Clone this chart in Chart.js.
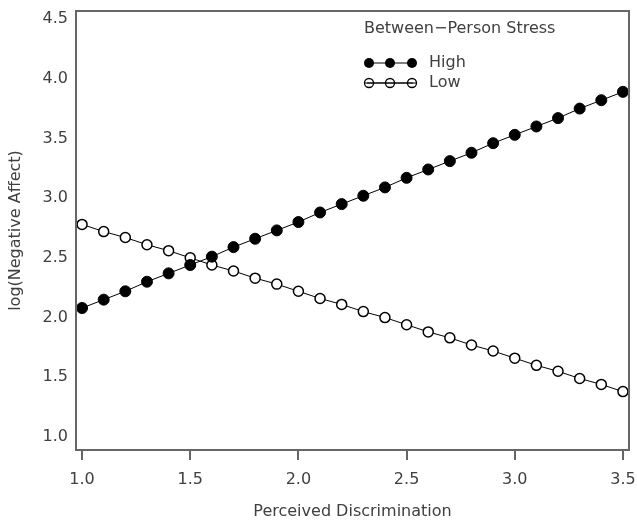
<!DOCTYPE html>
<html>
<head>
<meta charset="utf-8">
<script src="https://cdn.jsdelivr.net/npm/chart.js@4.4.0/dist/chart.umd.min.js"></script>
<style>
  html, body { margin: 0; padding: 0; background: #ffffff; }
  #wrap { width: 637px; height: 521px; position: relative; }
</style>
</head>
<body>
<div id="wrap"><canvas id="c" width="637" height="521"></canvas></div>
<script>
// ---- data ----
const discrimination = [1.0, 1.1, 1.2, 1.3, 1.4, 1.5, 1.6, 1.7, 1.8, 1.9, 2.0, 2.1, 2.2, 2.3, 2.4, 2.5, 2.6, 2.7, 2.8, 2.9, 3.0, 3.1, 3.2, 3.3, 3.4, 3.5];
const highStress = [2.08, 2.15, 2.22, 2.30, 2.37, 2.44, 2.51, 2.59, 2.66, 2.73, 2.80, 2.88, 2.95, 3.02, 3.09, 3.17, 3.24, 3.31, 3.38, 3.46, 3.53, 3.60, 3.67, 3.75, 3.82, 3.89];
const lowStress  = [2.78, 2.72, 2.67, 2.61, 2.56, 2.50, 2.44, 2.39, 2.33, 2.28, 2.22, 2.16, 2.11, 2.05, 2.00, 1.94, 1.88, 1.83, 1.77, 1.72, 1.66, 1.60, 1.55, 1.49, 1.44, 1.38];
const xTicks = [1.0, 1.5, 2.0, 2.5, 3.0, 3.5];
const yTicks = [1.0, 1.5, 2.0, 2.5, 3.0, 3.5, 4.0, 4.5];
const seriesNames = ['High', 'Low'];
const legendTitle = 'Between\u2212Person Stress';
const xTitle = 'Perceived Discrimination';
const yTitle = 'log(Negative Affect)';

const FONT = '"DejaVu Sans", sans-serif';
const TEXT = '#404040';
const AXIS = '#666666';

function pts(ys) { return discrimination.map((x, i) => ({ x: x, y: ys[i] })); }

const framePlugin = {
  id: 'frame',
  afterDraw(chart) {
    const { ctx, chartArea: a } = chart;
    ctx.save();
    ctx.strokeStyle = AXIS;
    ctx.lineWidth = 2;
    ctx.strokeRect(a.left, a.top, a.right - a.left, a.bottom - a.top);

    // legend inside plot
    const lx = a.left + 288, ly = a.top + 18;
    ctx.fillStyle = TEXT;
    ctx.font = '16px ' + FONT;
    ctx.textBaseline = 'middle';
    ctx.textAlign = 'left';
    ctx.fillText(legendTitle, lx, ly);
    const rows = [
      { name: seriesNames[0], filled: true, y: ly + 34 },
      { name: seriesNames[1], filled: false, y: ly + 54 }
    ];
    rows.forEach(r => {
      ctx.strokeStyle = '#000';
      ctx.lineWidth = 1;
      ctx.beginPath();
      ctx.moveTo(lx + 3, r.y);
      ctx.lineTo(lx + 49, r.y);
      ctx.stroke();
      [lx + 5, lx + 26, lx + 48].forEach(cx => {
        ctx.beginPath();
        ctx.arc(cx, r.y, r.filled ? 5 : 4.5, 0, Math.PI * 2);
        if (r.filled) { ctx.fillStyle = '#000'; ctx.fill(); }
        else { ctx.lineWidth = 1.3; ctx.stroke(); ctx.lineWidth = 1; }
      });
      if (!r.filled) {
        ctx.beginPath(); ctx.moveTo(lx + 1, r.y); ctx.lineTo(lx + 52, r.y); ctx.stroke();
      }
      ctx.fillStyle = TEXT;
      ctx.font = '16px ' + FONT;
      ctx.fillText(r.name, lx + 65, r.y);
    });
    ctx.restore();
  }
};

new Chart(document.getElementById('c'), {
  type: 'line',
  data: {
    datasets: [
      {
        label: seriesNames[0],
        data: pts(highStress),
        borderColor: '#000',
        borderWidth: 1,
        backgroundColor: '#000',
        pointBackgroundColor: '#000',
        pointBorderColor: '#000',
        pointRadius: 5.5,
        pointBorderWidth: 1,
        tension: 0,
        clip: false
      },
      {
        label: seriesNames[1],
        data: pts(lowStress),
        borderColor: '#000',
        borderWidth: 1,
        backgroundColor: '#fff',
        pointBackgroundColor: '#fff',
        pointBorderColor: '#000',
        pointRadius: 5,
        pointBorderWidth: 1.5,
        tension: 0,
        clip: false
      }
    ]
  },
  options: {
    responsive: false,
    animation: false,
    devicePixelRatio: 1,
    layout: { padding: { left: 0, right: 8, top: 11, bottom: 0 } },
    plugins: { legend: { display: false }, tooltip: { enabled: false } },
    scales: {
      x: {
        type: 'linear',
        min: 0.972,
        max: 3.528,
        afterBuildTicks(s) { s.ticks = xTicks.map(v => ({ value: v })); },
        afterFit(s) { s.height = 71; s.paddingLeft = 0; s.paddingRight = 0; },
        border: { display: false },
        grid: { display: true, drawOnChartArea: false, drawTicks: true, tickLength: 10, color: AXIS, lineWidth: 2 },
        ticks: {
          color: TEXT, font: { family: FONT, size: 16 }, padding: 10, maxRotation: 0,
          callback: v => Number(v).toFixed(1)
        },
        title: { display: true, text: xTitle, color: TEXT, font: { family: FONT, size: 16 }, padding: { top: 13, bottom: 0 } }
      },
      y: {
        type: 'linear',
        min: 0.891,
        max: 4.567,
        afterBuildTicks(s) { s.ticks = yTicks.map(v => ({ value: v })); },
        afterFit(s) { s.width = 76; s.paddingTop = 0; s.paddingBottom = 0; },
        border: { display: false },
        grid: { display: false, drawTicks: false },
        ticks: {
          color: TEXT, font: { family: FONT, size: 16 }, padding: 8,
          callback: v => Number(v).toFixed(1)
        },
        title: { display: true, text: yTitle, color: TEXT, font: { family: FONT, size: 16 }, padding: { top: 6, bottom: 0 } }
      }
    }
  },
  plugins: [framePlugin]
});
</script>
</body>
</html>
